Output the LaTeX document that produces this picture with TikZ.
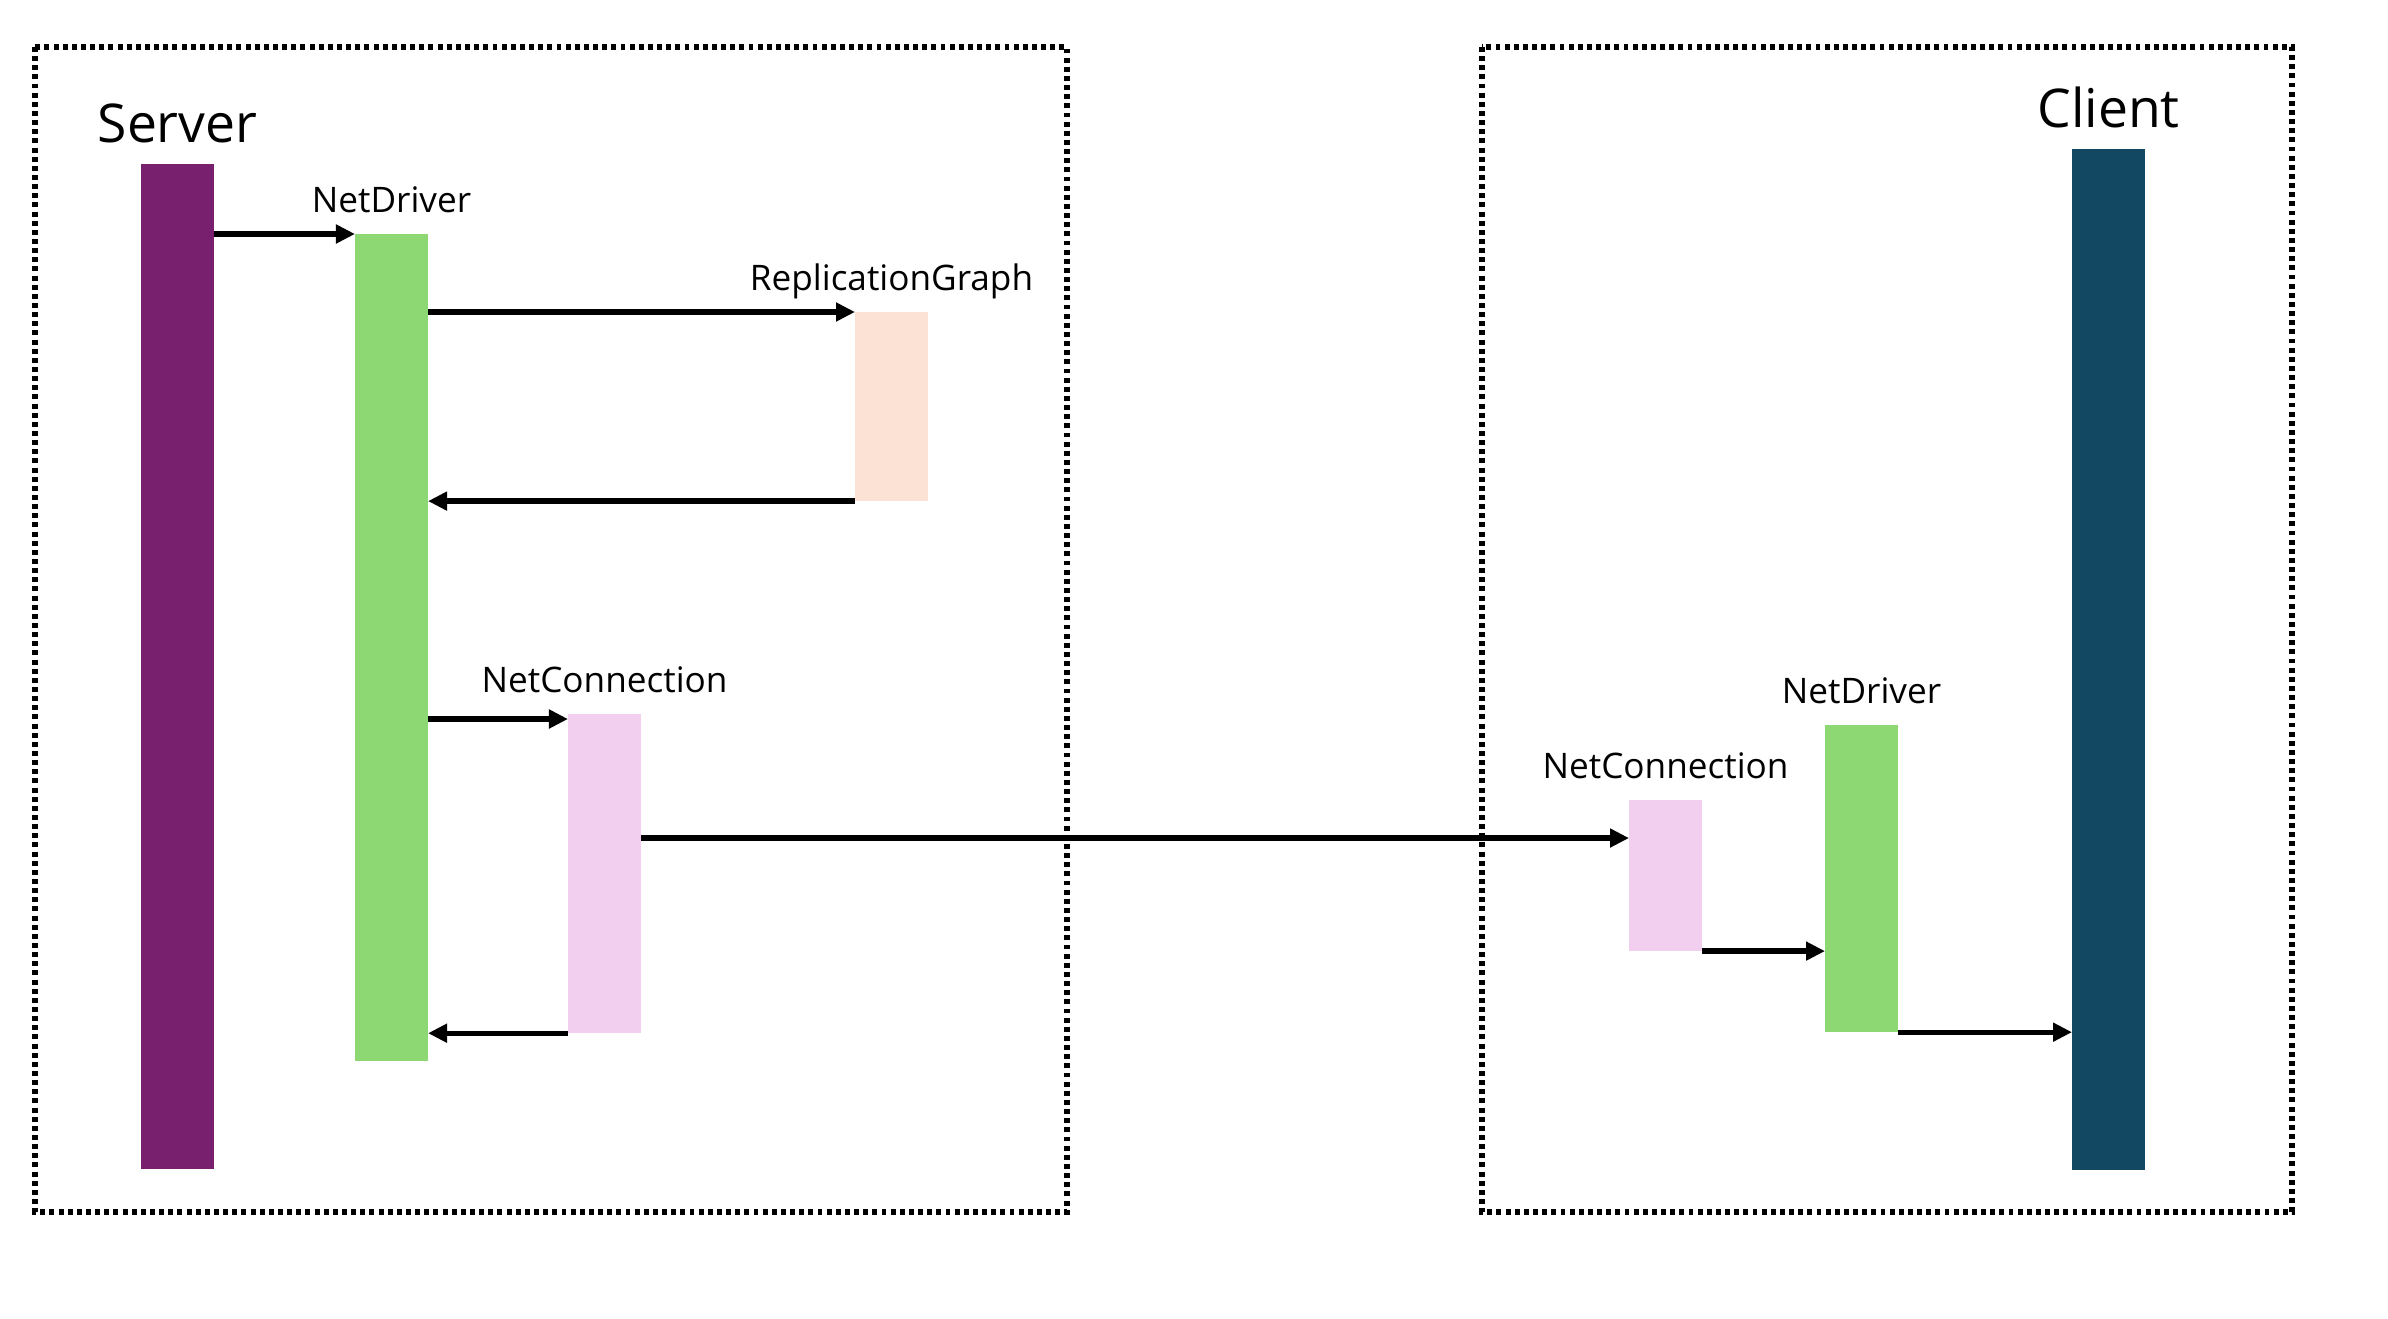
\documentclass[tikz,border=0pt]{standalone}
\usepackage{fontspec}
\setmainfont{Open Sans}
\usetikzlibrary{arrows.meta,positioning}

\definecolor{srvpurple}{HTML}{78206E}
\definecolor{drvgreen}{HTML}{8ED873}
\definecolor{rgpeach}{HTML}{FBE2D5}
\definecolor{connpink}{HTML}{F2CEEF}
\definecolor{clteal}{HTML}{124862}

\begin{document}
\begin{tikzpicture}[x=0.01cm,y=-0.01cm,
    bar/.style={rectangle,inner sep=0pt,outer sep=0pt,minimum width=0.73cm,anchor=north west},
    barlabel/.style={above=0.21cm of #1,anchor=base,inner sep=0pt,font=\fontsize{10pt}{12pt}\selectfont},
    sidelabel/.style={above=0.21cm of #1,anchor=base,inner sep=0pt,font=\fontsize{15.2pt}{18pt}\selectfont},
    msg/.style={line width=1.5pt,-{Triangle[length=0.19cm,width=0.18cm]}},
    frame/.style={line width=1.5pt,dash pattern=on 1.4pt off 1.2pt}]
  \useasboundingbox (0,0) rectangle (2388,1318);

  % server and client frames
  \draw[frame] (35,47) rectangle (1067,1212);
  \draw[frame] (1482,47) rectangle (2292,1212);

  % server side
  \node[bar,fill=srvpurple,minimum height=10.04cm] (srv) at (141,164) {};
  \node[bar,fill=drvgreen,minimum height=8.27cm] (nd) at (355,234) {};
  \node[bar,fill=rgpeach,minimum height=1.89cm] (rg) at (855,312) {};
  \node[bar,fill=connpink,minimum height=3.19cm] (nc) at (568,714) {};
  \node[sidelabel=srv] (srvlbl) {Server};
  \node[barlabel=nd] (ndlbl) {NetDriver};
  \node[barlabel=rg] (rglbl) {ReplicationGraph};
  \node[barlabel=nc] (nclbl) {NetConnection};

  % client side
  \node[bar,fill=clteal,minimum height=10.2cm] (cl) at (2072,149) {};
  \node[bar,fill=drvgreen,minimum height=3.07cm] (cnd) at (1825,725) {};
  \node[bar,fill=connpink,minimum height=1.51cm] (cnc) at (1629,800) {};
  \node[sidelabel=cl] (cllbl) {Client};
  \node[barlabel=cnd] (cndlbl) {NetDriver};
  \node[barlabel=cnc] (cnclbl) {NetConnection};

  \coordinate (ncin) at ([yshift=-0.05cm]nc.north west);
  \coordinate (cncin) at ([yshift=-0.38cm]cnc.north west);

  % calls
  \draw[msg] (srv.east |- nd.north) -- (nd.north west);
  \draw[msg] (nd.east |- rg.north) -- (rg.north west);
  \draw[msg] (rg.south west) -- (nd.east |- rg.south);
  \draw[msg] (nd.east |- ncin) -- (ncin);
  \draw[msg] (nc.east |- cncin) -- (cncin);
  \draw[msg] (nc.south west) -- (nd.east |- nc.south);
  \draw[msg] (cnc.south east) -- (cnd.west |- cnc.south);
  \draw[msg] (cnd.south east) -- (cl.west |- cnd.south);
\end{tikzpicture}
\end{document}
